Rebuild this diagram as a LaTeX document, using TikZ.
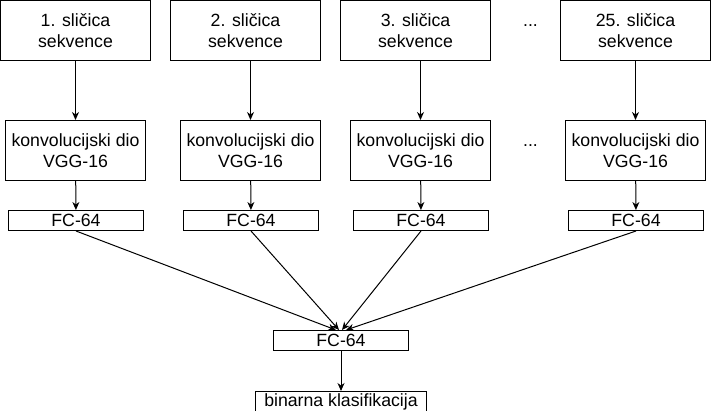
\documentclass[tikz,border=0pt]{standalone}
\usepackage{fontspec}
\setmainfont{Liberation Sans}
\usepackage{tikz}
\usetikzlibrary{positioning,arrows.meta}
\tikzset{okvir/.style={draw, line width=1pt, inner sep=0pt, align=center, font=\fontsize{17.7}{21}\selectfont}}
\tikzset{strelica/.style={line width=1pt, -{Stealth[length=8pt,width=7pt,inset=2.5pt]}}}
\tikzset{tocke/.style={inner sep=0pt, anchor=base, font=\fontsize{17.7}{21}\selectfont}}

\begin{document}
\begin{tikzpicture}[x=1pt, y=-1pt]
            \useasboundingbox (-0.5,-0.5) rectangle (710.5,410.5);
            \node[okvir, minimum width=150pt, minimum height=60pt] (s1) at (75,30) {1. sličica\\sekvence};
            \node[okvir, minimum width=150pt, minimum height=60pt] (s2) at (245,30) {2. sličica\\sekvence};
            \node[okvir, minimum width=150pt, minimum height=60pt] (s3) at (415,30) {3. sličica\\sekvence};
            \node[okvir, minimum width=150pt, minimum height=60pt] (s25) at (635,30) {25. sličica\\sekvence};
            \node[tocke] (t1) at (530,26) {...};

            \node[okvir, minimum width=140pt, minimum height=60pt] (k1) at (75,150) {konvolucijski dio\\VGG-16};
            \node[okvir, minimum width=140pt, minimum height=60pt] (k2) at (250,150) {konvolucijski dio\\VGG-16};
            \node[okvir, minimum width=140pt, minimum height=60pt] (k3) at (420,150) {konvolucijski dio\\VGG-16};
            \node[okvir, minimum width=140pt, minimum height=60pt] (k25) at (635,150) {konvolucijski dio\\VGG-16};
            \node[tocke] (t2) at (530,146) {...};

            \node[okvir, minimum width=135pt, minimum height=20pt] (f1) at (75.5,220) {FC-64};
            \node[okvir, minimum width=135pt, minimum height=20pt] (f2) at (250.5,220) {FC-64};
            \node[okvir, minimum width=135pt, minimum height=20pt] (f3) at (420.5,220) {FC-64};
            \node[okvir, minimum width=135pt, minimum height=20pt] (f25) at (635.5,220) {FC-64};

            \node[okvir, minimum width=135pt, minimum height=20pt] (fc) at (340.5,340) {FC-64};
            \node[okvir, minimum width=171pt, minimum height=20pt, below=40pt of fc] (bk) {binarna klasifikacija};

            \draw[strelica] (k1.north |- s1.south) -- (k1.north);
            \draw[strelica] (k2.north |- s2.south) -- (k2.north);
            \draw[strelica] (k3.north |- s3.south) -- (k3.north);
            \draw[strelica] (k25.north |- s25.south) -- (k25.north);

            \draw[strelica] (k1) -- (f1);
            \draw[strelica] (k2) -- (f2);
            \draw[strelica] (k3) -- (f3);
            \draw[strelica] (k25) -- (f25);

            \draw[strelica] (f1.south) -- ([xshift=-5pt]fc.north);
            \draw[strelica] (f2.south) -- ([xshift=-2pt]fc.north);
            \draw[strelica] (f3.south) -- ([xshift=1pt]fc.north);
            \draw[strelica] (f25.south) -- ([xshift=5pt]fc.north);

            \draw[strelica] (fc) -- (bk);
        \end{tikzpicture}
\end{document}
